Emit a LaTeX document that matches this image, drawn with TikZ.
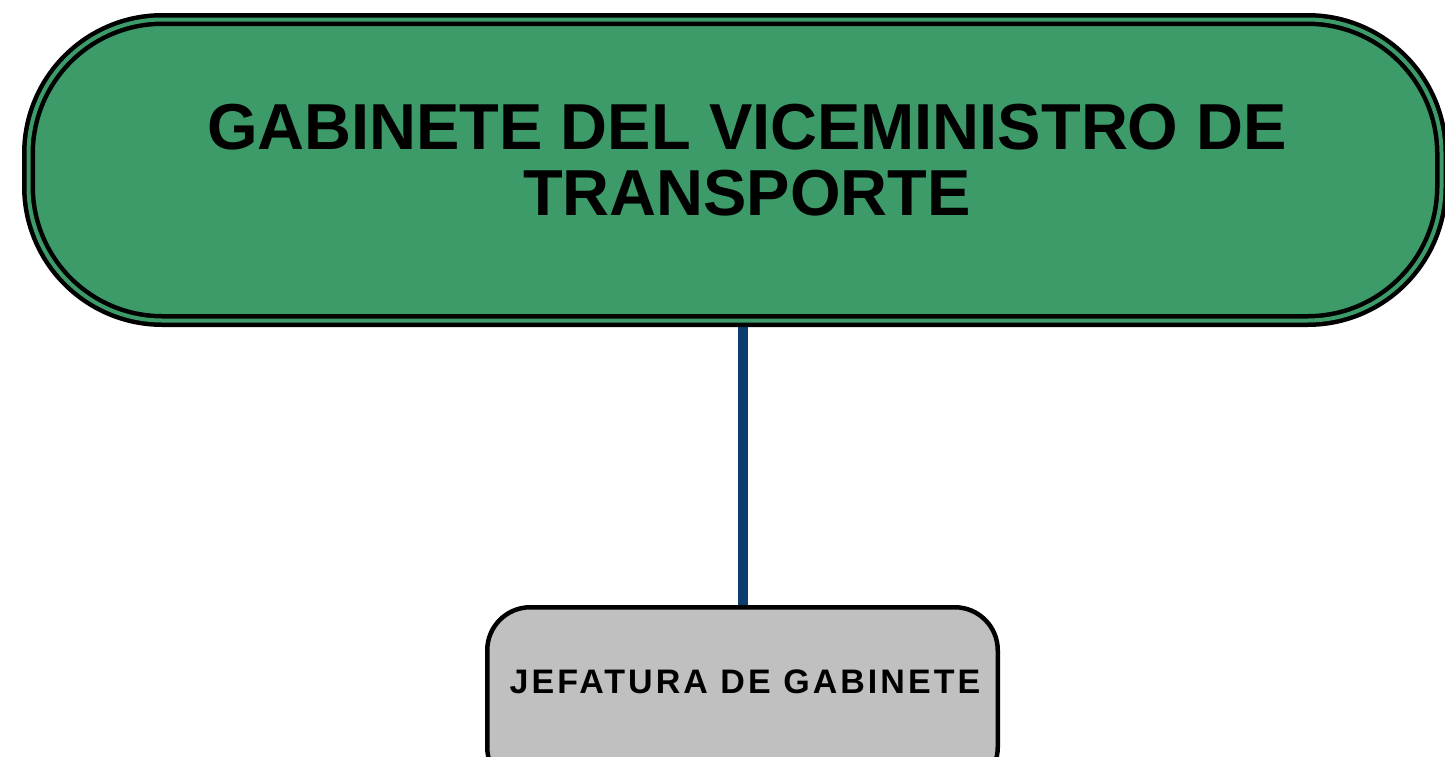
\documentclass[tikz,border=0pt]{standalone}
\usepackage{fontspec}
\setmainfont{Liberation Sans}
\usetikzlibrary{backgrounds}
\definecolor{boxgreen}{RGB}{61,155,106}
\definecolor{boxgray}{RGB}{192,192,192}
\definecolor{linkblue}{RGB}{14,62,112}
\tikzset{
  topbox/.style={draw=black, line width=4.5pt, double=boxgreen, double distance=4pt,
    fill=boxgreen, rounded corners=134pt, minimum width=1413pt, minimum height=301pt,
    inner sep=0pt},
  titletext/.style={font=\fontsize{65}{66}\selectfont\bfseries, align=center, inner sep=0pt, anchor=north},
  graybox/.style={draw=black, line width=4.5pt, fill=boxgray, rounded corners=43pt,
    minimum width=510.5pt, minimum height=183pt, inner sep=0pt},
  jeftext/.style={font=\bfseries\addfontfeature{LetterSpace=9}\fontsize{34}{38}\selectfont, inner sep=0pt, anchor=base},
  link/.style={draw=linkblue, line width=10pt}
}
\begin{document}
\begin{tikzpicture}[x=1pt,y=-1pt]
\useasboundingbox (0,0) rectangle (1445,756);
\node[topbox] (top) at (735,170) {};
\node[titletext] (title) at (747,104) {GABINETE DEL VICEMINISTRO DE\\TRANSPORTE};
\node[graybox] (jef) at (742.5,698.75) {};
\node[jeftext] (jeft) at (745,693) {JEFATURA DE GABINETE};
\begin{scope}[on background layer]
  \fill[white] (0,0) rectangle (1445,756);
  \draw[link] (jef.north |- top.south) -- (jef.north);
\end{scope}
\end{tikzpicture}
\end{document}
